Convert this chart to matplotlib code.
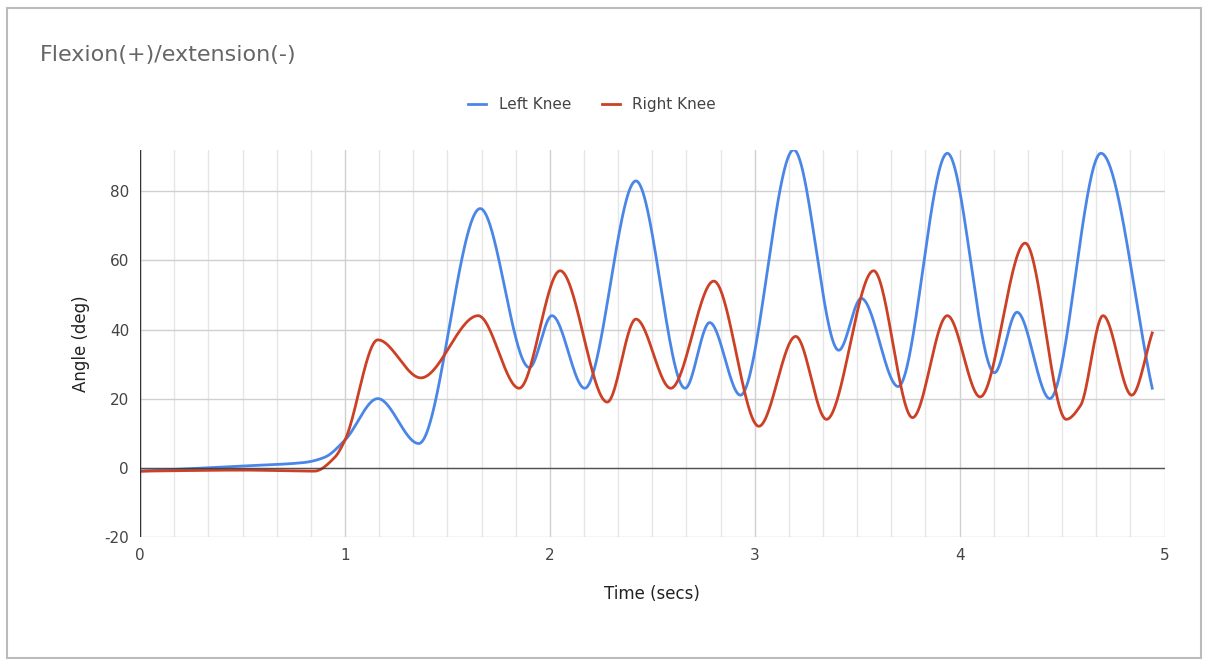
import numpy as np
import matplotlib.pyplot as plt

# key points (time in secs, angle in deg)
left_t = [0, 0.5, 0.8, 0.9, 1.0, 1.16, 1.36, 1.66, 1.9, 2.01, 2.17, 2.42, 2.66, 2.78, 2.93,
          3.19, 3.41, 3.52, 3.70, 3.94, 4.17, 4.28, 4.44, 4.69, 4.94]
left_y = [-1, 0.5, 1.5, 3, 8, 20, 7, 75, 29, 44, 23, 83, 23, 42, 21,
          92, 34, 49, 23.5, 91, 27.5, 45, 20, 91, 23]
right_t = [0, 0.5, 0.85, 0.95, 1.0, 1.16, 1.37, 1.65, 1.85, 2.05, 2.28, 2.42, 2.59, 2.8, 3.02,
           3.2, 3.35, 3.58, 3.77, 3.94, 4.10, 4.32, 4.52, 4.59, 4.70, 4.84, 4.94]
right_y = [-1, -0.7, -1, 3, 8, 37, 26, 44, 23, 57, 19, 43, 23, 54, 12,
           38, 14, 57, 14.5, 44, 20.5, 65, 14, 18, 44, 21, 39]


def smooth(xs, ys, n=1500):
    # monotone cubic hermite (Fritsch-Carlson) to mimic the smoothed line
    x = np.asarray(xs, float); y = np.asarray(ys, float)
    h = np.diff(x); d = np.diff(y) / h
    m = np.zeros_like(y)
    m[0], m[-1] = d[0], d[-1]
    for i in range(1, len(y) - 1):
        if d[i - 1] * d[i] > 0:
            w1 = 2 * h[i] + h[i - 1]; w2 = h[i] + 2 * h[i - 1]
            m[i] = (w1 + w2) / (w1 / d[i - 1] + w2 / d[i])
    xx = np.linspace(x[0], x[-1], n)
    k = np.clip(np.searchsorted(x, xx) - 1, 0, len(h) - 1)
    t = (xx - x[k]) / h[k]
    h00 = 2*t**3 - 3*t**2 + 1; h10 = t**3 - 2*t**2 + t
    h01 = -2*t**3 + 3*t**2; h11 = t**3 - t**2
    yy = h00*y[k] + h10*h[k]*m[k] + h01*y[k+1] + h11*h[k]*m[k+1]
    return xx, yy


plt.rcParams['axes.unicode_minus'] = False
fig = plt.figure(figsize=(12.08, 6.66), dpi=100)
fig.patches.append(plt.Rectangle((0.006, 0.012), 0.988, 0.976, transform=fig.transFigure,
                                 fill=False, edgecolor='#bbbbbb', linewidth=1.5))
ax = fig.add_axes([0.116, 0.194, 0.848, 0.581])

lx, ly = smooth(left_t, left_y)
rx, ry = smooth(right_t, right_y)
ax.plot(lx, ly, color='#4a86e8', linewidth=2, label='Left Knee')
ax.plot(rx, ry, color='#cc4125', linewidth=2, label='Right Knee')

ax.set_xlim(0, 5)
ax.set_ylim(-20, 92)
ax.set_xticks(range(0, 6))
ax.set_xticks(np.arange(0, 5.01, 1/6), minor=True)
ax.set_yticks(range(-20, 81, 20))
ax.grid(which='major', color='#d0d0d0', linewidth=1)
ax.grid(which='minor', axis='x', color='#e6e6e6', linewidth=1)
ax.axhline(0, color='#333333', linewidth=1, alpha=0.8)
ax.tick_params(which='both', length=0, labelsize=11, colors='#444444', pad=8)
for s in ax.spines.values():
    s.set_visible(False)
ax.axvline(0, color='#333333', linewidth=1)

ax.set_xlabel('Time (secs)', fontsize=12, color='#222222', labelpad=16)
ax.set_ylabel('Angle (deg)', fontsize=12, color='#222222', labelpad=10)
fig.text(0.033, 0.917, 'Flexion(+)/extension(-)', fontsize=16, color='#666666', va='center')
fig.legend(loc='center', bbox_to_anchor=(0.49, 0.843), ncol=2, frameon=False, fontsize=11,
           handlelength=1.2, columnspacing=2, labelcolor='#444444')

plt.savefig('out.png')
